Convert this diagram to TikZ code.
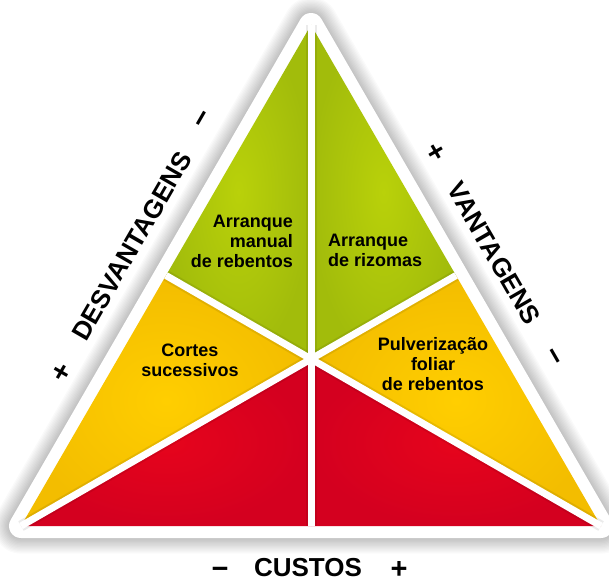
\documentclass[tikz,border=0pt]{standalone}
\usepackage{fontspec}
\setmainfont{Liberation Sans}
\definecolor{greenin}{HTML}{B9D10A}
\definecolor{greenout}{HTML}{A2BC0B}
\definecolor{yellowin}{HTML}{FFCE00}
\definecolor{yellowout}{HTML}{F3BD00}
\definecolor{redin}{HTML}{E6041C}
\definecolor{redout}{HTML}{D4001F}
\tikzset{
  inlbl/.style={font=\bfseries\fontsize{18}{20}\selectfont, text=black, inner sep=0pt},
  outlbl/.style={font=\bfseries\fontsize{26}{28}\selectfont, text=black, inner sep=0pt},
  signlbl/.style={font=\bfseries\fontsize{29}{30}\selectfont, text=black, inner sep=0pt},
  divider/.style={white, line width=7, line cap=butt},
  dividershade/.style={black, opacity=0.08, line width=11},
}
\begin{document}
\begin{tikzpicture}[x=1pt,y=-1pt]
\useasboundingbox (0,0) rectangle (609,580);
\fill[white] (0,0) rectangle (609,580);
\coordinate (A) at (311,25);
\coordinate (L) at (21,526);
\coordinate (R) at (601,526);
\coordinate (M) at (311,526);
\coordinate (C) at (311,359);
\coordinate (ML) at (166,275.5);
\coordinate (MR) at (456,275.5);
% shadow
\foreach \i in {1,...,12}
  \draw[black, opacity=0.02, line width={24+2.6*\i}, line join=round, shift={(0,9)}] (A)--(L)--(R)--cycle;
% white border
\draw[white, fill=white, line width=24, line join=round] (A)--(L)--(R)--cycle;
% regions
\shade[inner color=greenin, outer color=greenout] (A)--(ML)--(C)--cycle;
\shade[inner color=greenin, outer color=greenout] (A)--(C)--(MR)--cycle;
\shade[inner color=yellowin, outer color=yellowout] (ML)--(L)--(C)--cycle;
\shade[inner color=yellowin, outer color=yellowout] (MR)--(C)--(R)--cycle;
\shade[inner color=redin, outer color=redout] (L)--(M)--(C)--cycle;
\shade[inner color=redin, outer color=redout] (C)--(M)--(R)--cycle;
% dividers
\foreach \s/\t in {A/M, ML/C, L/C, MR/C, R/C}
  \draw[dividershade] (\s)--(\t);
\foreach \s/\t in {A/M, ML/C, L/C, MR/C, R/C}
  \draw[divider] (\s)--(\t);
% inner labels
\node[inlbl, align=right, anchor=north east] (t1) at (293,215) {Arranque\\manual\\de rebentos};
\node[inlbl, align=left, anchor=north west] (t2) at (328,234) {Arranque\\de rizomas};
\node[inlbl, align=center, anchor=north] (t3) at (190,344) {Cortes\\sucessivos};
\node[inlbl, align=center, anchor=north] (t4) at (433,337) {Pulverização\\foliar\\de rebentos};
% outer labels
\node[outlbl, rotate=60] (desv) at (132,246) {DESVANTAGENS};
\node[signlbl, rotate=60] (desvp) at (62,373) {+};
\node[signlbl, rotate=60] (desvm) at (205,120) {−};
\node[outlbl, rotate=-60] (vant) at (494,253.5) {VANTAGENS};
\node[signlbl, rotate=-60] (vantp) at (435,153) {+};
\node[signlbl, rotate=-60] (vantm) at (552,358) {−};
\node[outlbl, anchor=base] (cust) at (308,576) {CUSTOS};
\node[signlbl, anchor=base] (custm) at (220,578) {−};
\node[signlbl, anchor=base] (custp) at (399,578) {+};
\end{tikzpicture}
\end{document}
